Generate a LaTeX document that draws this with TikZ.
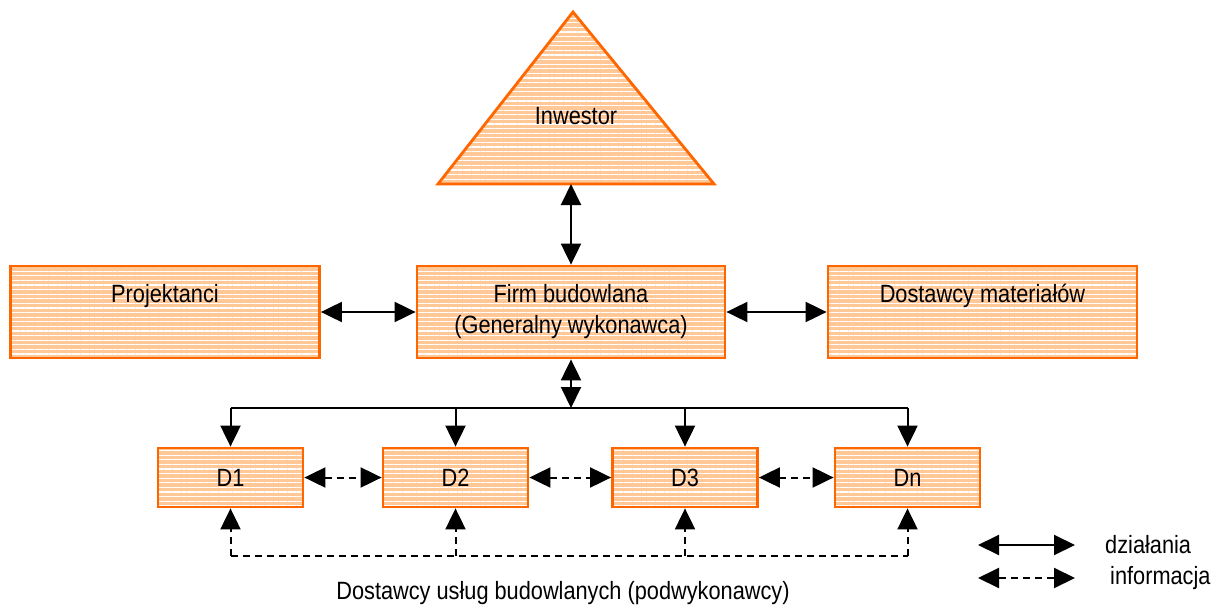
\documentclass[tikz,border=0pt]{standalone}
\usepackage{fontspec}
\setmainfont{Liberation Sans}[FakeStretch=0.87]
\usetikzlibrary{arrows.meta,patterns.meta}
\definecolor{boxedge}{HTML}{FF6600}
\definecolor{boxfill}{HTML}{FFC896}
\tikzset{
  txt/.style={font=\fontsize{25}{31}\selectfont, text=black, inner sep=0pt, align=center},
  striped/.style={draw=boxedge, line width=2.8pt, preaction={fill=boxfill},
    pattern={Lines[distance=4.6pt,line width=1.1pt]}, pattern color=white},
  box/.style={striped, rectangle, inner sep=0pt},
  bigbox/.style={box, minimum width=309pt, minimum height=92pt},
  dbox/.style={box, minimum width=145pt, minimum height=59pt},
  head/.tip={Triangle[length=21pt,width=20pt]},
  act/.style={line width=2pt, head-head},
  down/.style={line width=2pt, -head},
  bus/.style={line width=2pt},
  info/.style={line width=2pt, dash pattern=on 7pt off 5pt, head-head},
  infoup/.style={line width=2pt, dash pattern=on 7pt off 5pt, -head},
  infoline/.style={line width=2pt, dash pattern=on 7pt off 5pt},
}
\begin{document}
\begin{tikzpicture}[x=1pt,y=-1pt]
\useasboundingbox (0,0) rectangle (1223,607);

% investor triangle
\draw[striped] (573,12) -- (714,184) -- (438,184) -- cycle;
\node[txt] (inv) at (576,116) {Inwestor};
\coordinate (invbase) at (571,184);

% main row
\node[bigbox] (proj) at (165,312) {};
\node[txt] (projtxt) at (165,296) {Projektanci};
\node[bigbox, txt, minimum width=308pt, minimum height=92pt, striped] (firm) at (571,312)
  {Firm budowlana\\(Generalny wykonawca)};
\node[bigbox] (dost) at (982.5,312) {};
\node[txt] (dosttxt) at (982.5,296) {Dostawcy materiałów};

% subcontractors
\node[dbox, txt, striped] (d1) at (230.5,477.5) {D1};
\node[dbox, txt, striped] (d2) at (455.5,477.5) {D2};
\node[dbox, txt, striped] (d3) at (685,477.5) {D3};
\node[dbox, txt, striped] (dn) at (907.5,477.5) {Dn};

% solid connectors
\draw[act] (invbase) -- (firm.north);
\draw[act] (proj.east) -- (firm.west);
\draw[act] (firm.east) -- (dost.west);
\coordinate (bus) at (571,408);
\draw[act] (firm.south) -- (bus);
\draw[bus] (d1.north |- bus) -- (dn.north |- bus);
\foreach \d in {d1,d2,d3,dn}
  \draw[down] (\d.north |- bus) -- (\d.north);

% dashed connectors
\draw[info] (d1.east) -- (d2.west);
\draw[info] (d2.east) -- (d3.west);
\draw[info] (d3.east) -- (dn.west);
\coordinate (low) at (0,556);
\draw[infoline] (d1.south |- low) -- (dn.south |- low);
\foreach \d in {d1,d2,d3,dn}
  \draw[infoup] (\d.south |- low) -- (\d.south);

\node[txt] (caption) at (563,593) {Dostawcy usług budowlanych (podwykonawcy)};

% legend
\coordinate (la1) at (978,545);
\coordinate (la2) at (1075,545);
\draw[act] (la1) -- (la2);
\node[txt, anchor=west] (latxt) at (1105,545) {działania};
\coordinate (lb1) at (978,578);
\coordinate (lb2) at (1075,578);
\draw[info] (lb1) -- (lb2);
\node[txt, anchor=west] (lbtxt) at (1110,578) {informacja};
\end{tikzpicture}
\end{document}
